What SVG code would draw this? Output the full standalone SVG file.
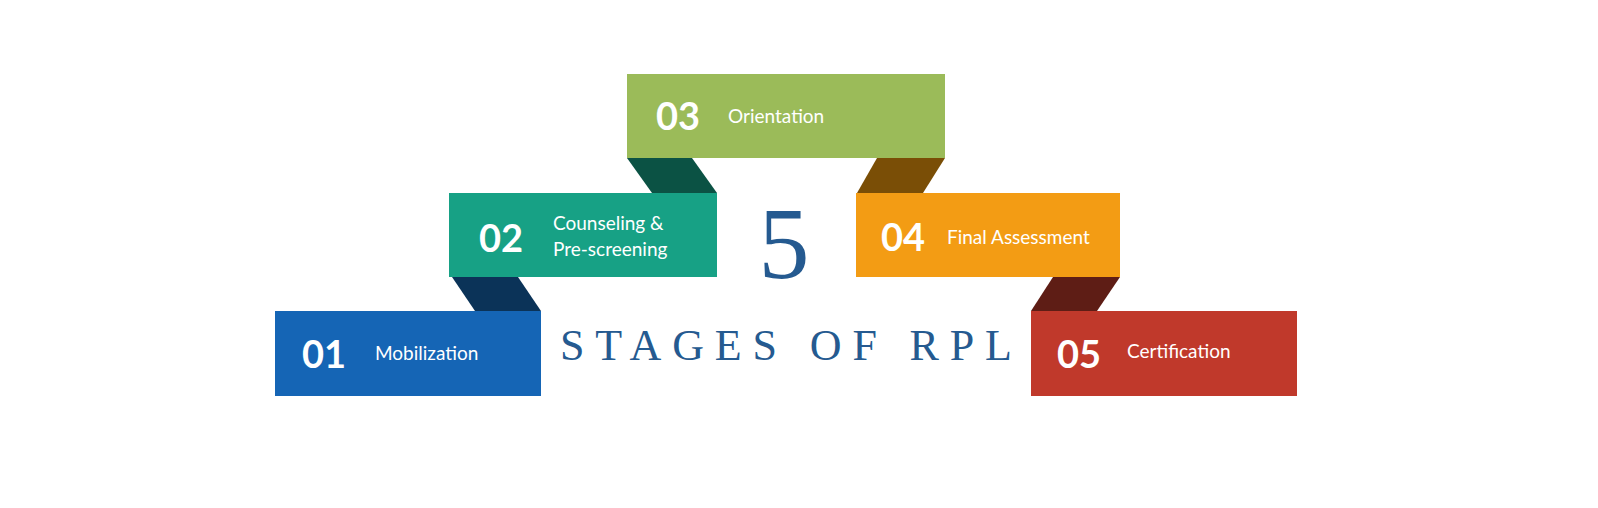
<svg xmlns="http://www.w3.org/2000/svg" width="1598" height="508" viewBox="0 0 1598 508">
<style>
.num{font-family:Lato,"Open Sans",sans-serif;font-weight:bold;font-size:38px;fill:#fff}
.lbl{font-family:Lato,"Open Sans",sans-serif;font-size:19px;fill:#fff}
.title{font-family:"Liberation Serif","DejaVu Serif",serif;fill:#255a90}
</style>
<rect width="1598" height="508" fill="#fff"/>
<g id="connectors">
<polygon points="452,277 518,277 541,311 475,311" fill="#0b3358"/>
<polygon points="627,158 692,158 717,193 652,193" fill="#0b5244"/>
<polygon points="877,158 945,158 923,193 857,193" fill="#7a4e06"/>
<polygon points="1053,277 1120,277 1097,311 1031,311" fill="#5e1d15"/>
</g>
<g id="stage01">
<rect x="275" y="311" width="266" height="85" fill="#1565b5"/>
<text class="num" x="302" y="368">01</text>
<text class="lbl" x="375" y="360">Mobilization</text>
</g>
<g id="stage02">
<rect x="449" y="193" width="268" height="84" fill="#17a185"/>
<text class="num" x="479" y="252">02</text>
<text class="lbl" x="553" y="230">Counseling &amp;</text>
<text class="lbl" x="553" y="256">Pre-screening</text>
</g>
<g id="stage03">
<rect x="627" y="74" width="318" height="84" fill="#9bbb59"/>
<text class="num" x="656" y="130">03</text>
<text class="lbl" x="728" y="123">Orientation</text>
</g>
<g id="stage04">
<rect x="856" y="193" width="264" height="84" fill="#f39c14"/>
<text class="num" x="881" y="251">04</text>
<text class="lbl" x="947" y="244">Final Assessment</text>
</g>
<g id="stage05">
<rect x="1031" y="311" width="266" height="85" fill="#c0392b"/>
<text class="num" x="1057" y="368">05</text>
<text class="lbl" x="1127" y="358">Certification</text>
</g>
<g id="title">
<text class="title" x="784" y="278" font-size="102" text-anchor="middle">5</text>
<text class="title" x="560" y="360" font-size="44" textLength="452" lengthAdjust="spacing">STAGES OF RPL</text>
</g>
</svg>
